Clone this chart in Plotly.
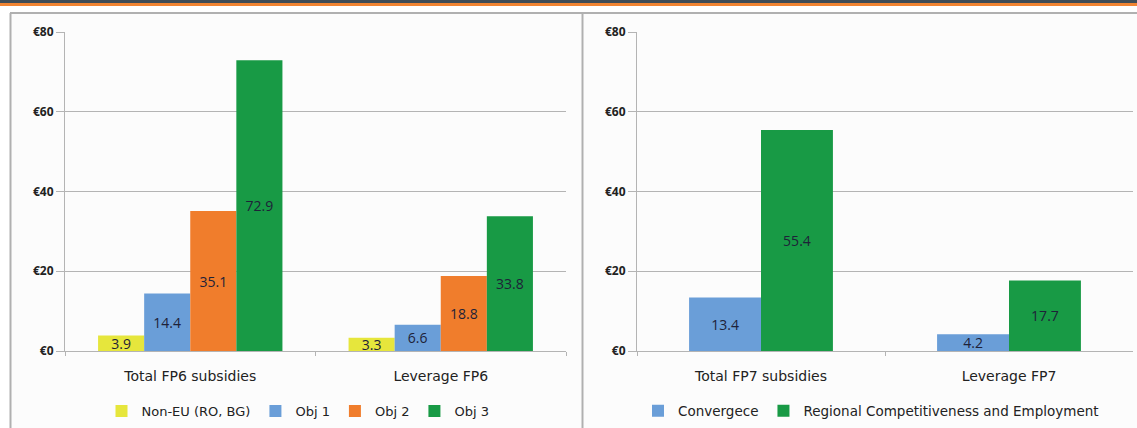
import plotly.graph_objects as go

W, H = 1137, 428

# ---- data ----
fp6_categories = ["Total FP6 subsidies", "Leverage FP6"]
fp6_series = ["Non-EU (RO, BG)", "Obj 1", "Obj 2", "Obj 3"]
fp6_nonEU = [3.9, 3.3]
fp6_obj1 = [14.4, 6.6]
fp6_obj2 = [35.1, 18.8]
fp6_obj3 = [72.9, 33.8]

fp7_categories = ["Total FP7 subsidies", "Leverage FP7"]
fp7_series = ["Convergece", "Regional Competitiveness and Employment"]
fp7_convergence = [13.4, 4.2]
fp7_rce = [55.4, 17.7]

y_ticks = [0, 20, 40, 60, 80]
y_tick_labels = ["€0", "€20", "€40", "€60", "€80"]

# ---- styles ----
YELLOW = "#e6e63c"
BLUE = "#6a9ed8"
ORANGE = "#f07d2c"
GREEN = "#189a45"
LABEL_COL = "#1e2238"
GRID = "#b4b4b4"
FONT = "DejaVu Sans"


def px_x(x):
    return x / W


def px_y(y):
    return 1 - y / H


fig = go.Figure()

left_vals = [fp6_nonEU, fp6_obj1, fp6_obj2, fp6_obj3]
left_cols = [YELLOW, BLUE, ORANGE, GREEN]
lw = 0.184
for i, (name, vals, col) in enumerate(zip(fp6_series, left_vals, left_cols)):
    fig.add_trace(go.Bar(
        x=fp6_categories, y=vals, name=name, marker=dict(color=col, line=dict(width=0)),
        width=lw, offset=-2 * lw + i * lw,
        text=[f"{v:.1f}" for v in vals], textposition="inside", insidetextanchor="middle",
        textangle=0, constraintext="none",
        textfont=dict(family="Open Sans", size=14, color=LABEL_COL),
        xaxis="x", yaxis="y", legend="legend", hoverinfo="skip",
    ))

right_vals = [fp7_convergence, fp7_rce]
right_cols = [BLUE, GREEN]
rw = 0.29
for i, (name, vals, col) in enumerate(zip(fp7_series, right_vals, right_cols)):
    fig.add_trace(go.Bar(
        x=fp7_categories, y=vals, name=name, marker=dict(color=col, line=dict(width=0)),
        width=rw, offset=-rw + i * rw,
        text=[f"{v:.1f}" for v in vals], textposition="inside", insidetextanchor="middle",
        textangle=0, constraintext="none",
        textfont=dict(family="Open Sans", size=14, color=LABEL_COL),
        xaxis="x2", yaxis="y2", legend="legend2", hoverinfo="skip",
    ))

yax = dict(range=[0, 80], tickvals=y_ticks, ticktext=y_tick_labels,
           showgrid=True, gridcolor=GRID, gridwidth=1, zeroline=False,
           showline=True, linecolor=GRID, linewidth=1,
           ticks="outside", ticklen=8, tickcolor=GRID,
           tickfont=dict(family="Open Sans", size=12, color="#222", weight="bold"),
           fixedrange=True, automargin=False)
xax = dict(showline=True, linecolor=GRID, linewidth=1, ticks="outside", ticklen=4,
           tickcolor=GRID, tickson="boundaries", showgrid=False,
           tickfont=dict(family=FONT, size=14, color="#222"), fixedrange=True,
           automargin=False, ticklabelstandoff=12)

fig.update_layout(
    width=W, height=H, margin=dict(l=0, r=0, t=0, b=0, autoexpand=False),
    paper_bgcolor="white", plot_bgcolor="rgba(0,0,0,0)",
    barmode="overlay", showlegend=True,
    xaxis=dict(domain=[px_x(65), px_x(566)], anchor="y", **xax),
    yaxis=dict(domain=[px_y(351), px_y(32)], anchor="x", **yax),
    xaxis2=dict(domain=[px_x(637), px_x(1133)], anchor="y2", **xax),
    yaxis2=dict(domain=[px_y(351), px_y(32)], anchor="x2", **yax),
    legend=dict(orientation="h", x=px_x(298), xanchor="center", y=px_y(411), yanchor="middle",
                font=dict(family=FONT, size=13, color="#222"), bgcolor="rgba(0,0,0,0)",
                itemwidth=30, tracegroupgap=0),
    legend2=dict(orientation="h", x=px_x(871), xanchor="center", y=px_y(411), yanchor="middle",
                 font=dict(family=FONT, size=13.5, color="#222"), bgcolor="rgba(0,0,0,0)",
                 itemwidth=30),
    shapes=[
        # panel backgrounds
        dict(type="rect", xref="paper", yref="paper", x0=px_x(11), x1=px_x(581), y0=0, y1=px_y(14),
             fillcolor="#fcfcfc", line=dict(width=0), layer="below"),
        dict(type="rect", xref="paper", yref="paper", x0=px_x(584), x1=1, y0=0, y1=px_y(14),
             fillcolor="#fcfcfc", line=dict(width=0), layer="below"),
        # top stripes
        dict(type="rect", xref="paper", yref="paper", x0=0, x1=1, y0=px_y(3), y1=1,
             fillcolor="#3f4d57", line=dict(width=0)),
        dict(type="rect", xref="paper", yref="paper", x0=0, x1=1, y0=px_y(6), y1=px_y(3),
             fillcolor="#f08432", line=dict(width=0)),
        # panel borders
        dict(type="line", xref="paper", yref="paper", x0=px_x(10), x1=1, y0=px_y(13), y1=px_y(13),
             line=dict(color="#b0b0b0", width=2)),
        dict(type="line", xref="paper", yref="paper", x0=px_x(10.5), x1=px_x(10.5), y0=0, y1=px_y(13),
             line=dict(color="#b0b0b0", width=2)),
        dict(type="line", xref="paper", yref="paper", x0=px_x(582.5), x1=px_x(582.5), y0=0, y1=px_y(13),
             line=dict(color="#b0b0b0", width=2)),
    ],
)

fig.write_html("out.html")
